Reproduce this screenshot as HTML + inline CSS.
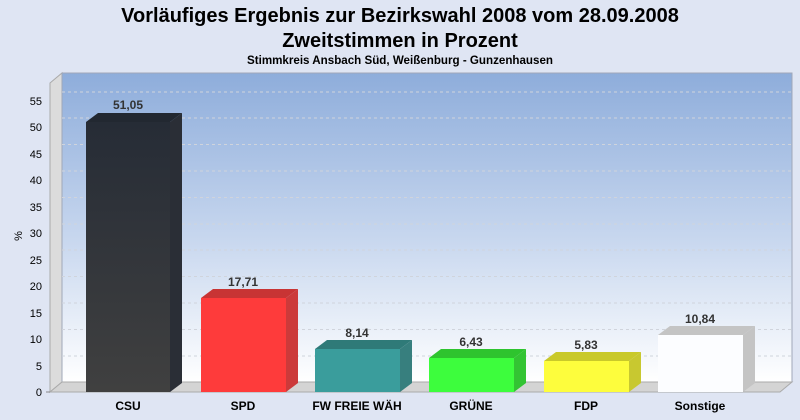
<!DOCTYPE html>
<html><head><meta charset="utf-8"><style>
body{margin:0;background:#dfe5f3;}
svg{display:block;font-family:"Liberation Sans",Arial,sans-serif;}
</style></head><body>
<svg width="800" height="420" viewBox="0 0 800 420">
<defs>
<linearGradient id="bg" x1="0" y1="0" x2="0" y2="1">
<stop offset="0" stop-color="#8eaddb"/><stop offset="0.55" stop-color="#c9d8ef"/><stop offset="1" stop-color="#ffffff"/>
</linearGradient>
<linearGradient id="csu" x1="0" y1="0" x2="0" y2="1"><stop offset="0" stop-color="#262c36"/><stop offset="1" stop-color="#404040"/></linearGradient>
</defs>
<rect width="800" height="420" fill="#dfe5f3"/>
<text x="400" y="22" text-anchor="middle" font-size="20" font-weight="bold">Vorläufiges Ergebnis zur Bezirkswahl 2008 vom 28.09.2008</text>
<text x="400" y="47" text-anchor="middle" font-size="20" font-weight="bold">Zweitstimmen in Prozent</text>
<text x="400" y="64" text-anchor="middle" font-size="11.6" font-weight="bold">Stimmkreis Ansbach Süd, Weißenburg - Gunzenhausen</text>
<polygon points="50,83 62,73 62,382 50,392" fill="#dcdcdc" stroke="#aaa" stroke-width="1"/>
<rect x="62" y="73" width="730" height="309" fill="url(#bg)" stroke="#a0a8b8" stroke-width="1"/>
<polygon points="50,392 62,382 792,382 780,392" fill="#d4d4d4" stroke="#aaa" stroke-width="1"/>
<g stroke="#d0d4dc" stroke-dasharray="3,3" stroke-width="1">
<line x1="62" y1="356" x2="792" y2="356"/><line x1="62" y1="329.5" x2="792" y2="329.5"/>
<line x1="62" y1="303" x2="792" y2="303"/><line x1="62" y1="276.5" x2="792" y2="276.5"/>
<line x1="62" y1="250" x2="792" y2="250"/><line x1="62" y1="224" x2="792" y2="224"/>
<line x1="62" y1="197.5" x2="792" y2="197.5"/><line x1="62" y1="171" x2="792" y2="171"/>
<line x1="62" y1="144.5" x2="792" y2="144.5"/><line x1="62" y1="118" x2="792" y2="118"/>
<line x1="62" y1="92" x2="792" y2="92"/>
</g>
<g font-size="11" text-anchor="end" fill="#000">
<text x="42" y="396">0</text><text x="42" y="370">5</text><text x="42" y="343">10</text>
<text x="42" y="317">15</text><text x="42" y="290">20</text><text x="42" y="264">25</text>
<text x="42" y="237">30</text><text x="42" y="211">35</text><text x="42" y="184">40</text>
<text x="42" y="158">45</text><text x="42" y="131">50</text><text x="42" y="105">55</text>
</g>
<g stroke="#888"><line x1="46" y1="392" x2="50" y2="392"/></g>
<text x="22" y="236" font-size="11" transform="rotate(-90 22 236)" text-anchor="middle">%</text>
<g>
<polygon points="86,122 98,113 182,113 170,122" fill="#222831"/>
<polygon points="170,122 182,113 182,383 170,392" fill="#2a2e36"/>
<rect x="86" y="122" width="84" height="270" fill="url(#csu)"/>
<polygon points="201,298 213,289 298,289 286,298" fill="#c83434"/>
<polygon points="286,298 298,289 298,383 286,392" fill="#cc3a3a"/>
<rect x="201" y="298" width="85" height="94" fill="#fe3b3b"/>
<polygon points="315,349 327,340 412,340 400,349" fill="#2f7a78"/>
<polygon points="400,349 412,340 412,383 400,392" fill="#377f7e"/>
<rect x="315" y="349" width="85" height="43" fill="#3a9d9c"/>
<polygon points="429,358 441,349 526,349 514,358" fill="#2ec42e"/>
<polygon points="514,358 526,349 526,383 514,392" fill="#33c433"/>
<rect x="429" y="358" width="85" height="34" fill="#3dfd3d"/>
<polygon points="544,361 556,352 641,352 629,361" fill="#c9c92a"/>
<polygon points="629,361 641,352 641,383 629,392" fill="#c8c830"/>
<rect x="544" y="361" width="85" height="31" fill="#fdfd3d"/>
<polygon points="658,335 670,326 755,326 743,335" fill="#c4c4c4"/>
<polygon points="743,335 755,326 755,383 743,392" fill="#c4c4c4"/>
<rect x="658" y="335" width="85" height="57" fill="#fcfdff"/>
</g>
<g font-size="12" font-weight="bold" fill="#333" text-anchor="middle">
<text x="128" y="109">51,05</text><text x="243" y="286">17,71</text>
<text x="357" y="337">8,14</text><text x="471" y="346">6,43</text>
<text x="586" y="349">5,83</text><text x="700" y="323">10,84</text>
</g>
<g font-size="12" font-weight="bold" fill="#000" text-anchor="middle">
<text x="128" y="410">CSU</text><text x="243" y="410">SPD</text>
<text x="357" y="410">FW FREIE WÄH</text><text x="471" y="410">GRÜNE</text>
<text x="586" y="410">FDP</text><text x="700" y="410">Sonstige</text>
</g>
</svg>
</body></html>
